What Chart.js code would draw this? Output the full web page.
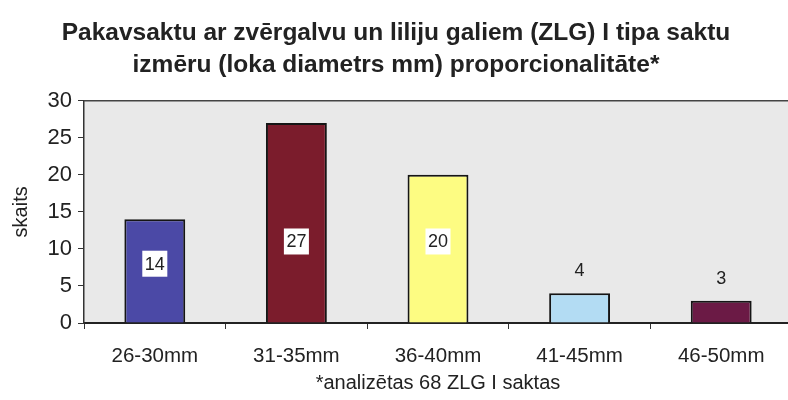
<!DOCTYPE html>
<html>
<head>
<meta charset="utf-8">
<script src="https://cdn.jsdelivr.net/npm/chart.js@4"></script>
<style>
  body { margin: 0; background: #fff; overflow: hidden; }
  #wrap { width: 792px; height: 400px; }
</style>
</head>
<body>
<div id="wrap"><canvas id="graphCanvas" width="792" height="400"></canvas></div>
<script>
var titleLines = ['Pakavsaktu ar zvērgalvu un liliju galiem (ZLG) I tipa saktu', 'izmēru (loka diametrs mm) proporcionalitāte*'];
var categories = ['26-30mm', '31-35mm', '36-40mm', '41-45mm', '46-50mm'];
var counts = [14, 27, 20, 4, 3];
var barColors = ['#4b49a6', '#7b1c2c', '#fdfc82', '#b3dcf3', '#6b1a45'];
var yTicks = [0, 5, 10, 15, 20, 25, 30];
var footnote = '*analizētas 68 ZLG I saktas';

var fontFamily = '"Liberation Sans", Arial, sans-serif';

// plot background + top border line
var plotBox = {
    id: 'plotBox',
    beforeDraw: function (chart) {
        var a = chart.chartArea, ctx = chart.ctx;
        ctx.save();
        ctx.fillStyle = '#e9e9e9';
        ctx.fillRect(a.left, a.top, a.right - a.left, a.bottom - a.top);
        ctx.restore();
    },
    beforeDatasetsDraw: function (chart) {
        var a = chart.chartArea, ctx = chart.ctx;
        ctx.save();
        ctx.strokeStyle = '#444';
        ctx.lineWidth = 1.5;
        ctx.beginPath();
        ctx.moveTo(a.left, a.top);
        ctx.lineTo(a.right + 5, a.top);
        ctx.stroke();
        ctx.restore();
    }
};

// value labels
var valueLabels = {
    id: 'valueLabels',
    afterDatasetsDraw: function (chart) {
        var ctx = chart.ctx;
        var y = chart.scales.y;
        var meta = chart.getDatasetMeta(0);
        ctx.save();
        ctx.font = '18px ' + fontFamily;
        ctx.textAlign = 'center';
        ctx.textBaseline = 'middle';
        meta.data.forEach(function (bar, i) {
            var v = counts[i];
            var txt = String(v);
            if (v >= 10) {
                var py = y.getPixelForValue(Math.min(v / 2 + 1, 11));
                var w = ctx.measureText(txt).width + 5;
                ctx.fillStyle = '#fff';
                ctx.fillRect(bar.x - w / 2, py - 13, w, 26);
                ctx.fillStyle = '#222';
                ctx.fillText(txt, bar.x, py + 1);
            } else {
                ctx.fillStyle = '#222';
                ctx.fillText(txt, bar.x, bar.y - 22);
            }
        });
        ctx.restore();
    }
};

var chartdata = {
    labels: categories,
    datasets: [{
        data: counts,
        backgroundColor: barColors,
        borderColor: '#151515',
        borderWidth: 2,
        barPercentage: 0.43,
        categoryPercentage: 1.0
    }]
};

new Chart(document.getElementById('graphCanvas'), {
    type: 'bar',
    data: chartdata,
    plugins: [plotBox, valueLabels],
    options: {
        responsive: false,
        animation: false,
        layout: { padding: 0 },
        plugins: {
            legend: { display: false },
            tooltip: { enabled: false },
            title: {
                display: true,
                text: titleLines,
                color: '#222',
                font: { family: fontFamily, size: 24.5, weight: 'bold', lineHeight: 1.3 },
                padding: { top: 17, bottom: 20 }
            }
        },
        scales: {
            x: {
                afterFit: function (s) { s.height = 77; },
                grid: { display: true, drawOnChartArea: false, offset: true, tickLength: 6, color: '#333', lineWidth: 1 },
                border: { color: '#222', width: 2 },
                ticks: { color: '#222', padding: 15, font: { family: fontFamily, size: 20.5 } },
                title: {
                    display: true,
                    text: footnote,
                    color: '#222',
                    font: { family: fontFamily, size: 20 },
                    padding: { top: 0, bottom: 5 }
                }
            },
            y: {
                min: 0,
                max: 30,
                afterFit: function (s) { s.width = 84; },
                afterBuildTicks: function (s) { s.ticks = yTicks.map(function (v) { return { value: v }; }); },
                grid: { display: true, drawOnChartArea: false, tickLength: 6, color: '#333', lineWidth: 1 },
                border: { color: '#333', width: 1.5 },
                ticks: { color: '#222', padding: 6, font: { family: fontFamily, size: 22 } },
                title: {
                    display: true,
                    text: 'skaits',
                    color: '#222',
                    font: { family: fontFamily, size: 20 },
                    padding: { top: 9, bottom: 0 }
                }
            }
        }
    }
});
</script>
</body>
</html>
